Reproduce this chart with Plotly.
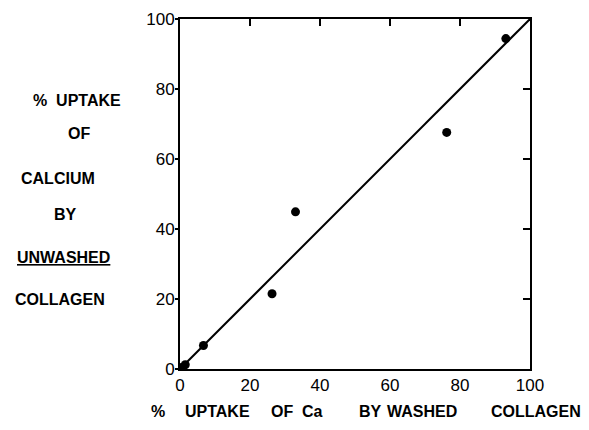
import plotly.graph_objects as go

washed = [0.3, 1.5, 6.7, 26.3, 33.0, 76.2, 93.1]
unwashed = [0.4, 1.2, 6.7, 21.5, 44.9, 67.6, 94.4]
line_x = [0, 100]
line_y = [0, 100]
tick_vals = [0, 20, 40, 60, 80, 100]
tick_text = ["0", "20", "40", "60", "80", "100"]
y_title_lines = ["%  UPTAKE", "OF", "CALCIUM", "BY", "<u>UNWASHED</u>", "COLLAGEN"]
x_title_words = ["%", "UPTAKE", "OF", "Ca", "BY", "WASHED", "COLLAGEN"]

FONT = "Liberation Sans"
# target plot box in page pixels
L, R, T, B = 180, 530, 19, 369
W, H = 589, 430

fig = go.Figure()
fig.add_trace(go.Scatter(x=line_x, y=line_y, mode="lines",
                         line=dict(color="black", width=2), showlegend=False))
fig.add_trace(go.Scatter(x=washed, y=unwashed, mode="markers",
                         marker=dict(color="black", size=9), showlegend=False))
fig.add_trace(go.Scatter(x=[None], y=[None], xaxis="x2", yaxis="y2", showlegend=False))

tickfont = dict(family=FONT, size=17, color="black")
axis_common = dict(range=[0, 100], tickvals=tick_vals, ticktext=tick_text,
                   showgrid=False, zeroline=False, showline=True, automargin=False,
                   linecolor="black", linewidth=2, tickfont=tickfont)

fig.update_layout(
    width=W, height=H,
    margin=dict(l=L, r=W - R, t=T, b=H - B, pad=0, autoexpand=False),
    plot_bgcolor="white", paper_bgcolor="white",
    xaxis=dict(**axis_common, ticks="outside", ticklen=0, tickcolor="white",
               mirror=True, ticklabelstandoff=0),
    yaxis=dict(**axis_common, ticks="outside", ticklen=3, tickwidth=2,
               tickcolor="black", mirror=True, ticklabelstandoff=-3),
    xaxis2=dict(range=[0, 100], overlaying="x", side="top", tickvals=tick_vals[1:-1],
                ticks="inside", ticklen=7, tickwidth=2, tickcolor="black", automargin=False,
                showticklabels=False, showgrid=False, zeroline=False),
    yaxis2=dict(range=[0, 100], overlaying="y", side="right", tickvals=tick_vals[1:-1],
                ticks="inside", ticklen=7, tickwidth=2, tickcolor="black", automargin=False,
                showticklabels=False, showgrid=False, zeroline=False),
)

y_pos = [(77, 100), (79, 133), (58, 178), (65, 214), (63, 257), (60, 299)]
for txt, (px, py) in zip(y_title_lines, y_pos):
    fig.add_annotation(text=txt, xref="paper", yref="paper",
                       x=(px - L) / (R - L), y=(B - py) / (B - T),
                       showarrow=False, xanchor="center", yanchor="middle",
                       font=dict(family=FONT, size=16, color="black", weight="bold"))

x_pos = [158, 217, 282, 312, 370, 422, 536]
for txt, px in zip(x_title_words, x_pos):
    fig.add_annotation(text=txt, xref="paper", yref="paper",
                       x=(px - L) / (R - L), y=(B - 411) / (B - T),
                       showarrow=False, xanchor="center", yanchor="middle",
                       font=dict(family=FONT, size=16, color="black", weight="bold"))

fig.write_html("out.html", post_script="document.body.style.margin='0px';",
               config={"displayModeBar": False})
